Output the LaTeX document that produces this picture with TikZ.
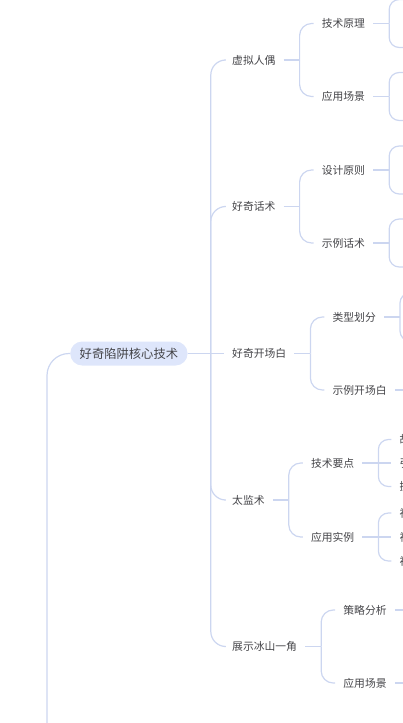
\documentclass[tikz,border=0pt]{standalone}
\usepackage{fontspec}
\newfontfamily\cjk{Noto Sans CJK SC}
\usetikzlibrary{calc}
\definecolor{LinkBlue}{RGB}{204,214,240}
\definecolor{PillBlue}{RGB}{222,230,251}
\definecolor{TextGray}{RGB}{68,68,72}

\begin{document}
\begin{tikzpicture}[x=1pt,y=-1pt,
  every node/.style={font=\cjk\fontsize{10.8}{13}\selectfont, text=TextGray,
    inner xsep=8pt, inner ysep=2pt, anchor=west},
  topic/.style={fill=PillBlue, rounded corners=12pt, minimum height=24pt,
    inner xsep=9.5pt, inner ysep=0pt, font=\cjk\fontsize{12.3}{14}\selectfont},
  link/.style={draw=LinkBlue, line width=1.2pt, rounded corners=#1},
  link/.default=12pt]
  \useasboundingbox (0,0) rectangle (403,723);

  % root and first level
  \node[topic] (root) at (70,353.5) {好奇陷阱核心技术};
  \node (xuni) at (224,60) {虚拟人偶};
  \node (huashu) at (224,206.5) {好奇话术};
  \node (kaichang) at (224,353.5) {好奇开场白};
  \node (taijian) at (224,500) {太监术};
  \node (bingshan) at (224,646.5) {展示冰山一角};

  % link up to the parent below the page
  \coordinate (root-up) at (47,730);
  \draw[link=22pt] (root-up) |- (root.west);

  \coordinate (root-v) at ($(root.east)+(23,0)$);
  \draw[link] (root.east) -- (kaichang.west);
  \foreach \c in {xuni,huashu,taijian,bingshan}
    \draw[link=15pt] (root-v) |- (\c.west);

  % second level
  \node (xuni-yuanli) at ($(xuni.east)+(30,-36.5)$) {技术原理};
  \node (xuni-changjing) at ($(xuni.east)+(30,36.5)$) {应用场景};
  \node (huashu-yuanze) at ($(huashu.east)+(30,-36.5)$) {设计原则};
  \node (huashu-shili) at ($(huashu.east)+(30,36.5)$) {示例话术};
  \node (kaichang-leixing) at ($(kaichang.east)+(30,-36.5)$) {类型划分};
  \node (kaichang-shili) at ($(kaichang.east)+(30,36.5)$) {示例开场白};
  \node (taijian-yaodian) at ($(taijian.east)+(30,-37)$) {技术要点};
  \node (taijian-shili) at ($(taijian.east)+(30,37)$) {应用实例};
  \node (bingshan-celue) at ($(bingshan.east)+(30,-36.5)$) {策略分析};
  \node (bingshan-changjing) at ($(bingshan.east)+(30,36.5)$) {应用场景};

  \foreach \p/\a/\b in {xuni/xuni-yuanli/xuni-changjing,
      huashu/huashu-yuanze/huashu-shili,
      kaichang/kaichang-leixing/kaichang-shili,
      taijian/taijian-yaodian/taijian-shili,
      bingshan/bingshan-celue/bingshan-changjing} {
    \coordinate (\p-v) at ($(\p.east)+(16,0)$);
    \draw[link] (\p.east) -- (\p-v);
    \draw[link] (\p-v) |- (\a.west);
    \draw[link] (\p-v) |- (\b.west);
  }

  % third level, mostly past the right edge
  \foreach \p in {xuni-yuanli,xuni-changjing,huashu-yuanze,huashu-shili,kaichang-leixing} {
    \coordinate (\p-v) at ($(\p.east)+(16,0)$);
    \coordinate (\p-1) at ($(\p.east)+(40,-24)$);
    \coordinate (\p-2) at ($(\p.east)+(40,24)$);
    \draw[link] (\p.east) -- (\p-v);
    \draw[link=10pt] (\p-v) |- (\p-1);
    \draw[link=10pt] (\p-v) |- (\p-2);
  }
  \foreach \p in {kaichang-shili,bingshan-celue,bingshan-changjing} {
    \coordinate (\p-1) at ($(\p.east)+(40,0)$);
    \draw[link] (\p.east) -- (\p-1);
  }

  \node (yaodian-1) at ($(taijian-yaodian.east)+(29,-23.5)$) {故意留白};
  \node (yaodian-2) at ($(taijian-yaodian.east)+(29,0)$) {引而不发};
  \node (yaodian-3) at ($(taijian-yaodian.east)+(29,23.5)$) {提出疑问};
  \node (shili-1) at ($(taijian-shili.east)+(29,-24)$) {社交聊天};
  \node (shili-2) at ($(taijian-shili.east)+(29,0)$) {视频开头};
  \node (shili-3) at ($(taijian-shili.east)+(29,24)$) {初次见面};

  \foreach \p in {yaodian,shili} {
    \coordinate (\p-v) at ($(taijian-\p.east)+(16,0)$);
    \draw[link] (taijian-\p.east) -- (\p-2.west);
    \draw[link=10pt] (\p-v) |- (\p-1.west);
    \draw[link=10pt] (\p-v) |- (\p-3.west);
  }
\end{tikzpicture}
\end{document}
